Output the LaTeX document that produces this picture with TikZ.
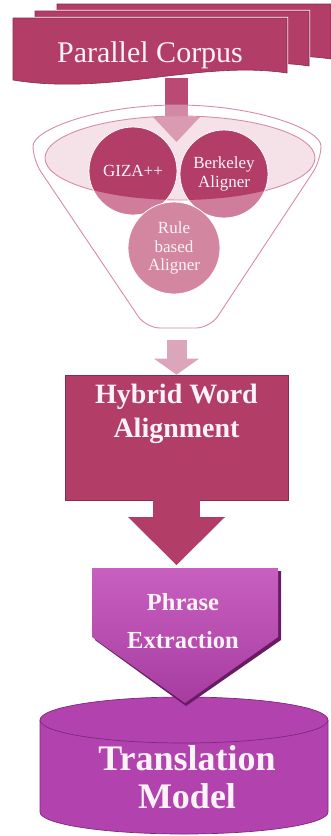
\documentclass[tikz,border=0pt]{standalone}
\usepackage{fontspec}
\setmainfont{Liberation Serif}
\usetikzlibrary{arrows.meta, positioning, calc}
\definecolor{corpusred}{RGB}{178, 61, 103}
\definecolor{corpusedge}{RGB}{140, 40, 78}
\definecolor{feedpink}{RGB}{186, 74, 114}
\definecolor{funnelline}{RGB}{214, 140, 167}
\definecolor{holepink}{RGB}{232, 184, 201}
\definecolor{alignlight}{RGB}{208, 124, 155}
\definecolor{ruleberry}{RGB}{211, 134, 159}
\definecolor{softarrow}{RGB}{220, 166, 186}
\definecolor{phrasetop}{RGB}{200, 96, 192}
\definecolor{phrasebot}{RGB}{166, 60, 160}
\definecolor{phraseshade}{RGB}{105, 28, 100}
\definecolor{modelfill}{RGB}{178, 66, 174}
\definecolor{modeledge}{RGB}{128, 40, 126}
\definecolor{labelwhite}{RGB}{252, 243, 247}

\begin{document}
\begin{tikzpicture}[
  x=1pt, y=-1pt,
  sheet/.style={fill=corpusred, draw=corpusedge, line width=0.6pt,
                preaction={draw=white, line width=2.4pt}},
  funnel/.style={fill=white, fill opacity=0.35, draw=funnelline, line width=0.9pt, rounded corners=14pt},
  hole/.style={fill=holepink, fill opacity=0.4, draw=funnelline, line width=0.9pt},
  aligner/.style={circle, minimum size=88pt, inner sep=0pt, fill=alignlight, draw=white,
                  line width=0.8pt, align=center, text=labelwhite, font=\fontsize{17}{18.5}\selectfont},
  inhole/.style={path picture={\fill[corpusred] (hole) ellipse[x radius=135, y radius=42];}},
  hybridbox/.style={rectangle, fill=corpusred, draw=corpusedge, line width=0.6pt,
                    minimum width=223pt, minimum height=125pt},
  boldlabel/.style={align=center, text=labelwhite, anchor=base},
  feed/.style={feedpink, line width=23pt, -{Triangle[width=47pt, length=25pt, line width=0pt]}},
  merge/.style={softarrow, line width=20pt, -{Triangle[width=45pt, length=16pt, line width=0pt]}},
  push/.style={corpusred, line width=47pt, -{Triangle[width=97pt, length=48pt, line width=0pt]}}
]
\useasboundingbox (0,0) rectangle (330,836);

\coordinate (hole) at (180,158);
\coordinate (corpusfoot) at (176.5,78);
\coordinate (hopperin) at (176.5,142);
\coordinate (hopperout) at (176.5,340);
\coordinate (phrasetip) at (176.5,565);

\draw[feed] (corpusfoot) -- (hopperin);

% funnel
\filldraw[funnel] (33,160) arc[start angle=180, end angle=360, x radius=144, y radius=55]
  -- (210,328) -- (146,328) -- cycle;
\filldraw[hole] (hole) ellipse[x radius=135, y radius=42];

\node[aligner, inhole] (giza) at (133,171) {GIZA++};
\node[aligner, inhole] (berkeley) at (224,174) {Berkeley\\Aligner};
\node[aligner, fill=ruleberry, minimum size=92pt] (rulebased) at (174,248) {Rule\\based\\Aligner};

% stacked corpus sheets
\foreach \dx/\dy in {44/-14, 22/-7, 0/0}
  \filldraw[sheet, shift={(\dx,\dy)}] (13,18) -- (287,18) -- (287,73)
    .. controls (200,60) and (110,96) .. (13,80) -- cycle;
\node[text=labelwhite, font=\fontsize{30}{32}\selectfont, anchor=base] (corpus) at (150,62) {Parallel Corpus};

\node[hybridbox] (hybrid) at (176.5,437.5) {};
\node[boldlabel, font=\fontsize{28}{34}\selectfont\bfseries] (hybridlbl) at (176.5,437) {Hybrid Word\\Alignment};
\draw[merge] (hopperout) -- (hybrid.north);
\draw[push] (hybrid.south) -- (phrasetip);

% database cylinder
\fill[modelfill] (40,720) -- (40,812) arc[start angle=180, end angle=0, x radius=144, y radius=22]
  -- (328,720) -- cycle;
\draw[modeledge, line width=0.7pt] (40,720) -- (40,812)
  arc[start angle=180, end angle=0, x radius=144, y radius=22] -- (328,720);
\filldraw[fill=modelfill, draw=modeledge, line width=0.7pt] (184,720) ellipse[x radius=144, y radius=23];
\node[boldlabel, font=\fontsize{36}{38}\selectfont\bfseries] (model) at (187,808) {Translation\\Model};

% pentagon
\fill[phraseshade] (95,571) -- (281,571) -- (281,640) -- (186,706) -- (95,640) -- cycle;
\shade[top color=phrasetop, bottom color=phrasebot] (92,568) -- (278,568) -- (278,637)
  -- (185,703) -- (92,637) -- cycle;
\node[boldlabel, font=\fontsize{24.5}{38}\selectfont\bfseries] (phrase) at (183,648) {Phrase\\Extraction};
\end{tikzpicture}
\end{document}
